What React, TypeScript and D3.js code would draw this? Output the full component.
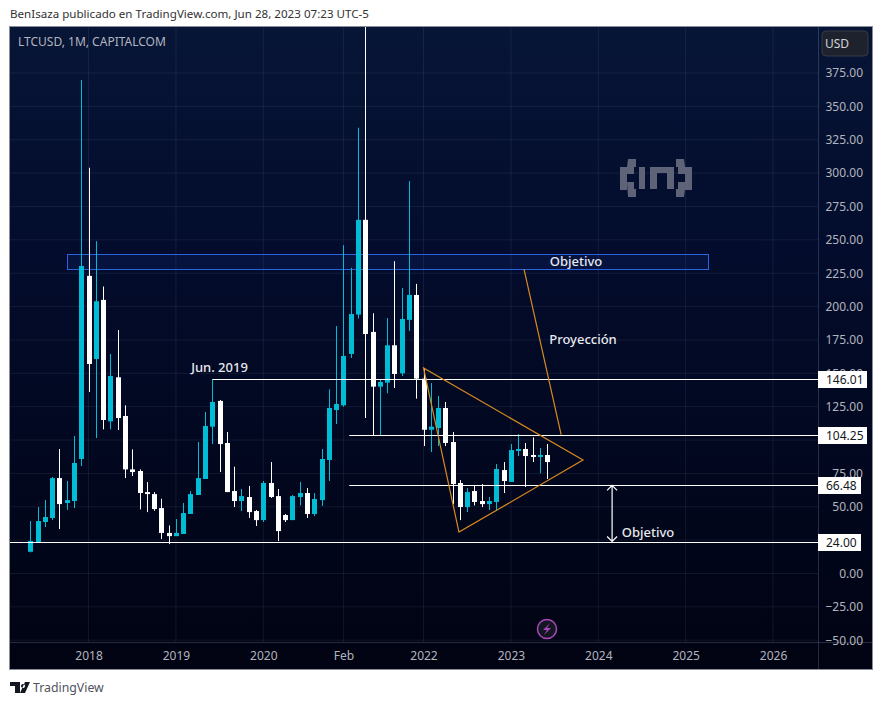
import { useEffect, useRef } from "react";
import * as d3 from "d3";

const opens = [16.3, 23.6, 38.6, 41.6, 71.5, 52.8, 54.3, 85.8, 223, 160.7, 205, 114, 147, 118, 78, 76.8, 61, 59.5, 49, 30.4, 28, 29.6, 44.6, 58.8, 70.8, 110, 129.3, 97.8, 61.8, 54.3, 57.3, 46.8, 40, 67.8, 58, 43.8, 40, 57.3, 60.3, 44.6, 55, 85, 122.5, 126, 164.5, 194, 265, 181, 140, 143, 171, 150, 190, 208.7, 146, 107.7, 109, 124, 98.5, 67.8, 49.8, 61.8, 54.3, 52, 53.6, 77.5, 68.6, 91.8, 93.3, 88.8, 87.3, 88.8];
const closes = [24.4, 39.3, 42.3, 71.5, 52, 55, 82.8, 230.4, 157, 204, 115, 148, 116.5, 78, 76, 60.3, 59.5, 48.3, 30.4, 28, 30.4, 45.3, 59.5, 71.5, 110.5, 128.5, 97, 61, 54.3, 58, 46, 40, 67.8, 57.3, 31.8, 40, 58, 60.3, 44.6, 55.8, 85.8, 124, 127, 163, 194.4, 265, 179.4, 140, 143.5, 171, 149.5, 190.7, 208.7, 146, 107.7, 110, 124, 97.8, 67, 49.8, 61, 53.6, 52, 54.3, 78.3, 69.3, 92.5, 93.3, 88, 87.3, 88.8, 83.5];
const highs = [39.3, 49.8, 55, 72.3, 93.3, 69.3, 103, 369.7, 304, 249, 215, 164.5, 182.4, 126, 93, 78, 68.5, 61, 56, 36, 40.8, 52.8, 61.8, 98.5, 121, 145.5, 130, 106, 80, 63.3, 65.6, 47.6, 69.3, 83.5, 63.3, 44.6, 58.8, 68.6, 64, 60.3, 93.3, 138, 185.4, 246, 229, 334, 420, 195, 145, 191.4, 234, 214, 294, 217, 154, 142.7, 133, 128.5, 106, 70, 64, 66.3, 67, 57.3, 82, 83.5, 97, 104.5, 97.8, 102, 94, 97];
const lows = [15.8, 23.6, 34.8, 40, 33.3, 47.6, 49, 80.5, 136, 101.5, 108, 108, 107.5, 71.5, 73, 48, 46, 47, 25.8, 22, 28, 29.6, 44.6, 58.8, 70.8, 97, 76, 61, 49.8, 46.8, 41.6, 35.6, 38.6, 56.6, 24.3, 38.6, 40, 51, 41.6, 43, 50.6, 69.3, 112, 125, 161.5, 191, 116.5, 103.7, 103.7, 135, 139, 148, 181.7, 131, 95.5, 91, 95.5, 95.5, 52, 40, 46, 51, 49.8, 47.6, 46.8, 60.3, 68.6, 88, 64.8, 83.5, 75, 70.8];

const priceTicks = [-50, -25, 0, 25, 50, 75, 100, 125, 150, 175, 200, 225, 250, 275, 300, 325, 350, 375];
// 25.00 sits fully behind the 24.00 tag in the picture
const priceLabels = priceTicks.filter((d) => d !== 25);
const timeTickBars = [8, 20, 32, 43, 54, 66, 78, 90, 102];
const timeTickLabels = ["2018", "2019", "2020", "Feb", "2022", "2023", "2024", "2025", "2026"];

// horizontal levels: price, first bar (null = from the left edge)
const levelPrices = [146.01, 104.25, 66.48, 24.0];
const levelStarts = [25, 43.8, 43.8, null];

const zoneBars = [5, 93];
const zonePrices = [239.5, 228];
const triangleBars = [54, 58.87, 75.9];
const trianglePrices = [154, 31, 85];
const projectionBars = [67.8, 72.9];
const projectionPrices = [228, 104];
const arrowBar = 79.9;
const arrowPrices = [66, 24];

const W = 882;
const H = 705;
const plot = { left: 10, right: 818, top: 27, bottom: 642, outerRight: 872, outerBottom: 669 };
const FONT = "'Noto Sans', sans-serif";
const CYAN = "#00bcd4";
const ORANGE = "#d98a1f";
const AXIS_TEXT = "#b2b5be";

export default function App() {
  const ref = useRef<SVGSVGElement>(null);

  useEffect(() => {
    if (!ref.current) return;
    const svg = d3.select(ref.current);
    svg.selectAll("*").remove();

    // one bar is 7.282px, bars are evenly spaced whatever the date
    const x = d3.scaleLinear().domain([0, 71]).range([30.3, 547.3]);
    const y = d3.scaleLinear().domain([0, 375]).range([573.5, 73]);

    const defs = svg.append("defs");
    const grad = defs.append("linearGradient").attr("id", "bg").attr("x1", 0).attr("x2", 0).attr("y1", 0).attr("y2", 1);
    grad.append("stop").attr("offset", "0%").attr("stop-color", "#071536");
    grad.append("stop").attr("offset", "35%").attr("stop-color", "#030c2c");
    grad.append("stop").attr("offset", "100%").attr("stop-color", "#010312");
    defs.append("clipPath").attr("id", "plot-clip").append("rect")
      .attr("x", plot.left).attr("y", plot.top)
      .attr("width", plot.right - plot.left).attr("height", plot.bottom - plot.top);

    svg.append("rect").attr("width", W).attr("height", H).attr("fill", "#fff");
    svg.append("rect")
      .attr("x", plot.left).attr("y", plot.top)
      .attr("width", plot.outerRight - plot.left).attr("height", plot.outerBottom - plot.top)
      .attr("fill", "url(#bg)");
    svg.append("rect")
      .attr("x", plot.left - 0.5).attr("y", plot.top - 0.5)
      .attr("width", plot.outerRight - plot.left + 1).attr("height", plot.outerBottom - plot.top + 1)
      .attr("fill", "none").attr("stroke", "#8a8d99");

    // Grid
    const grid = svg.append("g").attr("clip-path", "url(#plot-clip)");
    grid.selectAll("line.h").data(priceTicks).join("line")
      .attr("x1", plot.left).attr("x2", plot.right)
      .attr("y1", (d) => y(d)).attr("y2", (d) => y(d))
      .attr("stroke", "rgba(190,200,230,0.09)");
    grid.selectAll("line.v").data(timeTickBars).join("line")
      .attr("x1", (d) => x(d)).attr("x2", (d) => x(d))
      .attr("y1", plot.top).attr("y2", plot.bottom)
      .attr("stroke", "rgba(190,200,230,0.09)");

    // Price axis
    svg.append("g")
      .attr("transform", `translate(${plot.right},0)`)
      .call(d3.axisRight(y).tickValues(priceLabels).tickFormat((d) => d3.format(".2f")(d as number).replace("-", "−")).tickSize(0))
      .call((g) => {
        g.select(".domain").remove();
        g.selectAll(".tick text")
          .attr("x", 45).attr("text-anchor", "end")
          .attr("fill", AXIS_TEXT).attr("font-family", FONT).attr("font-size", "12px");
      });

    // Time axis
    svg.append("g")
      .attr("transform", `translate(0,${plot.bottom})`)
      .call(d3.axisBottom(x).tickValues(timeTickBars).tickFormat((_, i) => timeTickLabels[i]).tickSize(0))
      .call((g) => {
        g.select(".domain").remove();
        g.selectAll(".tick text")
          .attr("y", 9)
          .attr("fill", AXIS_TEXT).attr("font-family", FONT).attr("font-size", "12px");
      });

    svg.append("line").attr("x1", plot.right + 0.5).attr("x2", plot.right + 0.5).attr("y1", plot.top).attr("y2", plot.outerBottom).attr("stroke", "rgba(190,200,230,0.2)");
    svg.append("line").attr("x1", plot.left).attr("x2", plot.outerRight).attr("y1", plot.bottom + 0.5).attr("y2", plot.bottom + 0.5).attr("stroke", "rgba(190,200,230,0.2)");

    // Watermark
    const mark = svg.append("g").attr("fill", "#5f6377");
    mark.append("path").attr("d", "M628 159h8v8h-2v7h-7v-7zM620 167h7v23h-7zM627 182h7v7h2v8h-8z");
    mark.append("rect").attr("x", 639).attr("y", 167).attr("width", 6).attr("height", 22);
    mark.append("path").attr("d", "M650 167h24v22h-7v-16h-10v16h-7z");
    mark.append("path").attr("d", "M676 159h8l1 8v7h-7v-7h-2zM685 167h7v23h-7zM678 182h7v7l-1 8h-8v-8h2z");

    // Target zone
    svg.append("rect")
      .attr("x", Math.round(x(zoneBars[0])) + 0.5).attr("y", Math.round(y(zonePrices[0])) + 0.5)
      .attr("width", Math.round(x(zoneBars[1]) - x(zoneBars[0]))).attr("height", Math.round(y(zonePrices[1]) - y(zonePrices[0])))
      .attr("fill", "rgba(41,98,255,0.09)").attr("stroke", "#2a62e0");

    // Candles
    const bars = d3.range(opens.length);
    const candles = svg.append("g").attr("clip-path", "url(#plot-clip)");
    const color = (i: number) => (closes[i] >= opens[i] ? CYAN : "#ffffff");
    candles.selectAll("line").data(bars).join("line")
      .attr("x1", (i) => Math.round(x(i)) + 0.5).attr("x2", (i) => Math.round(x(i)) + 0.5)
      .attr("y1", (i) => y(highs[i])).attr("y2", (i) => y(lows[i]))
      .attr("stroke", color);
    candles.selectAll("rect").data(bars).join("rect")
      .attr("x", (i) => Math.round(x(i)) - 2).attr("width", 5)
      .attr("y", (i) => y(Math.max(opens[i], closes[i])))
      .attr("height", (i) => Math.max(2, Math.abs(y(opens[i]) - y(closes[i]))))
      .attr("fill", color);

    // Levels
    const levelY = (p: number) => Math.ceil(y(p)) + 0.5;
    svg.selectAll("line.level").data(levelPrices).join("line")
      .attr("x1", (_, i) => (levelStarts[i] === null ? plot.left : x(levelStarts[i] as number)))
      .attr("x2", plot.right)
      .attr("y1", levelY).attr("y2", levelY)
      .attr("stroke", "#fff").attr("stroke-width", 1.2);

    levelPrices.forEach((p) => {
      svg.append("rect").attr("x", plot.right).attr("y", levelY(p) - 8.5)
        .attr("width", p >= 100 ? 49 : 43).attr("height", 17).attr("fill", "#fff");
      svg.append("text").attr("x", plot.right + 8).attr("y", levelY(p) + 4)
        .attr("font-family", FONT).attr("font-size", 12).attr("fill", "#131722")
        .text(p.toFixed(2));
    });

    // Triangle + projection
    const pts = triangleBars.map((b, i) => [x(b), y(trianglePrices[i])] as [number, number]);
    svg.append("path").attr("d", d3.line()(pts)! + "Z").attr("fill", "none").attr("stroke", ORANGE).attr("stroke-width", 1.2);
    svg.append("line")
      .attr("x1", x(projectionBars[0])).attr("y1", y(projectionPrices[0]))
      .attr("x2", x(projectionBars[1])).attr("y2", y(projectionPrices[1]))
      .attr("stroke", ORANGE).attr("stroke-width", 1.2);

    // Target arrow
    const ax = x(arrowBar);
    const [aTop, aBottom] = [y(arrowPrices[0]), y(arrowPrices[1])];
    svg.append("path")
      .attr("d", `M${ax} ${aTop}V${aBottom}M${ax - 5} ${aTop + 5}L${ax} ${aTop}L${ax + 5} ${aTop + 5}M${ax - 5} ${aBottom - 5}L${ax} ${aBottom}L${ax + 5} ${aBottom - 5}`)
      .attr("fill", "none").attr("stroke", "#fff").attr("stroke-width", 1.2);

    // Labels
    const labels: [string, number, number][] = [
      ["Objetivo", 576, 266],
      ["Proyección", 583, 344],
      ["Jun. 2019", 219.5, 372],
      ["Objetivo", 648, 537],
    ];
    labels.forEach(([t, lx, ly]) => {
      svg.append("text").attr("x", lx).attr("y", ly).attr("text-anchor", "middle")
        .attr("font-family", FONT).attr("font-size", 13).attr("font-weight", 500).attr("fill", "#e8e9ee").text(t);
    });

    svg.append("text").attr("x", 18).attr("y", 46).attr("font-family", FONT).attr("font-size", 12).attr("fill", AXIS_TEXT).text("LTCUSD, 1M, CAPITALCOM");
    svg.append("text").attr("x", 10).attr("y", 18).attr("font-family", FONT).attr("font-size", 11.6).attr("fill", "#333").text("BenIsaza publicado en TradingView.com, Jun 28, 2023 07:23 UTC-5");

    // Currency button
    svg.append("rect").attr("x", 822).attr("y", 31).attr("width", 46).attr("height", 25).attr("rx", 4).attr("fill", "#1e222d").attr("stroke", "#363a45");
    svg.append("text").attr("x", 825).attr("y", 47.5).attr("font-family", FONT).attr("font-size", 12).attr("fill", "#d1d4dc").text("USD");

    // Lightning badge
    svg.append("circle").attr("cx", 547).attr("cy", 629).attr("r", 9.5).attr("fill", "#131722").attr("stroke", "#ab47bc").attr("stroke-width", 1.5);
    svg.append("path").attr("d", "M550 623L543 630H547L544 635L551 628H547Z").attr("fill", "#ab47bc");

    // Footer logo
    svg.append("path").attr("d", "M10 682H20V693H15V686H10ZM21 686A2 2 0 1 0 21 685.9ZM25 682H30L25 693H20Z").attr("fill", "#131722");
    svg.append("text").attr("x", 33).attr("y", 692).attr("font-family", FONT).attr("font-size", 12.3).attr("fill", "#50535e").text("TradingView");
  }, []);

  return <svg ref={ref} width={W} height={H} style={{ position: "absolute", left: 0, top: 0, display: "block" }} />;
}
